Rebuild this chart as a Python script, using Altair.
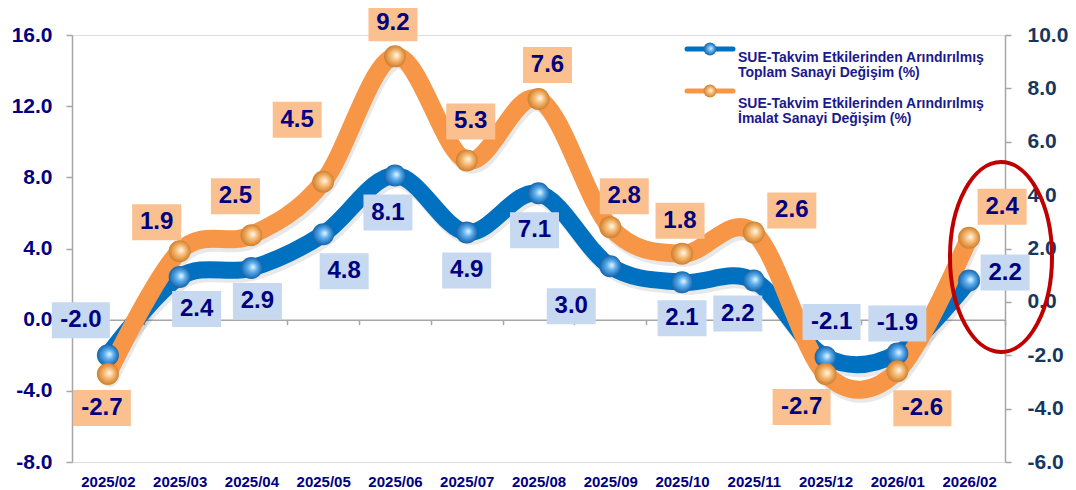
import altair as alt
import pandas as pd

# ---------------- data ----------------
months = ["2025/02", "2025/03", "2025/04", "2025/05", "2025/06", "2025/07", "2025/08",
          "2025/09", "2025/10", "2025/11", "2025/12", "2026/01", "2026/02"]
toplam = [-2.0, 2.4, 2.9, 4.8, 8.1, 4.9, 7.1, 3.0, 2.1, 2.2, -2.1, -1.9, 2.2]
imalat = [-2.7, 1.9, 2.5, 4.5, 9.2, 5.3, 7.6, 2.8, 1.8, 2.6, -2.7, -2.6, 2.4]

legend_toplam = ["SUE-Takvim Etkilerinden Arındırılmış", "Toplam Sanayi Değişim (%)"]
legend_imalat = ["SUE-Takvim Etkilerinden Arındırılmış", "İmalat Sanayi Değişim (%)"]

left_ticks = [-8, -4, 0, 4, 8, 12, 16]
right_ticks = [-6, -4, -2, 0, 2, 4, 6, 8, 10]

# label placement (pixel offset of each value box from its point)
toplam_dx = [-27, 17, 6, 21, -7, 0, -4, -39, 0, -16, 6, 0, 36]
toplam_dy = [-35, 32, 33, 37, 37, 38, 37, 40, 36, 33, -35, -30, -8]
imalat_dx = [-6, -23, -16, -26, -2, 4, 9, 14, -2, 38, -24, 25, 33]
imalat_dy = [34, -29, -39, -62, -33, -39, -34, -31, -33, -22, 33, 37, -31]

FONT = "Liberation Sans"
NAVY = "#000080"
BLUE = "#0070C0"
ORANGE = "#F79646"
BLUE_BOX = "#C6D9F1"
ORANGE_BOX = "#FAC090"
GRAY = "#A6A6A6"


def frame(vals, dx, dy):
    return pd.DataFrame({
        "month": months,
        "value": vals,
        "label": [f"{v:.1f}" for v in vals],
        "len": [str(len(f"{v:.1f}")) for v in vals],
        "dx": dx,
        "dy": dy,
    })


df_t = frame(toplam, toplam_dx, toplam_dy)
df_i = frame(imalat, imalat_dx, imalat_dy)

label_expr = "(datum.value < 0 ? '-' : '') + format(abs(datum.value), '.1f')"

x_enc = alt.X(
    "month:N", sort=months, title=None,
    scale=alt.Scale(type="band", paddingInner=0, paddingOuter=0),
    axis=alt.Axis(offset=-142.3, domainColor=GRAY, domainWidth=1.5, tickColor=GRAY,
                  tickWidth=1.5, tickSize=5, tickBand="extent", labelAngle=0,
                  labelPadding=150, labelFont=FONT, labelFontSize=15,
                  labelFontWeight="bold", labelColor=NAVY, grid=False),
)

left_scale = alt.Scale(domain=[-8, 16], nice=False, zero=False)
right_scale = alt.Scale(domain=[-6, 10], nice=False, zero=False)

left_axis = alt.Axis(orient="left", values=left_ticks, labelExpr=label_expr, title=None,
                     grid=False, domainColor=GRAY, domainWidth=1.5, tickColor=GRAY,
                     tickWidth=1.5, tickSize=6, labelPadding=14, labelFont=FONT,
                     labelFontSize=21, labelFontWeight="bold", labelColor=NAVY)
right_axis = alt.Axis(orient="right", values=right_ticks, labelExpr=label_expr, title=None,
                      grid=False, domainColor=GRAY, domainWidth=1.5, tickColor=GRAY,
                      tickWidth=1.5, tickSize=6, labelPadding=16, labelFont=FONT,
                      labelFontSize=21, labelFontWeight="bold", labelColor="#17375E")


def yenc(scale, axis=None):
    return alt.Y("value:Q", scale=scale, axis=axis, title=None)


def sphere(light, mid, dark):
    return {"gradient": "radial", "x1": 0.58, "y1": 0.45, "r1": 0,
            "x2": 0.5, "y2": 0.5, "r2": 0.55,
            "stops": [{"offset": 0, "color": light},
                      {"offset": 0.4, "color": mid},
                      {"offset": 1, "color": dark}]}


blue_sphere = sphere("#eaf6ff", "#5aaeee", "#0a569e")
orange_sphere = sphere("#fffaf2", "#f8bd78", "#c8741f")

box3 = "M-1.361,-1H1.361V1H-1.361Z"
box4 = "M-1.611,-1H1.611V1H-1.611Z"
ellipse = "M0,-1A0.537,1,0,1,1,0,1A0.537,1,0,1,1,0,-1Z"

DX = alt.ExprRef(expr="datum.dx")
DY = alt.ExprRef(expr="datum.dy")


def series_layers(df, scale, axis, color, width, sph, boxcolor):
    base = alt.Chart(df)
    shadow = base.mark_line(interpolate="cardinal", tension=0, strokeWidth=width,
                            color="#000000", opacity=0.09, strokeCap="round",
                            xOffset=2, yOffset=4).encode(x=x_enc, y=yenc(scale))
    line = base.mark_line(interpolate="cardinal", tension=0, strokeWidth=width,
                          color=color, strokeCap="round").encode(x=x_enc, y=yenc(scale, axis))
    pts = base.mark_circle(size=484, fill=sph, opacity=1).encode(x=x_enc, y=yenc(scale))
    boxes = base.mark_point(filled=True, fill=boxcolor, opacity=1, strokeWidth=0,
                            size=1296, xOffset=DX, yOffset=DY).encode(
        x=x_enc, y=yenc(scale),
        shape=alt.Shape("len:N", scale=alt.Scale(domain=["3", "4"], range=[box3, box4]),
                        legend=None),
    )
    text = base.mark_text(font=FONT, fontSize=24, fontWeight="bold", color=NAVY,
                          align="center", baseline="middle", dx=DX, dy=DY).encode(
        x=x_enc, y=yenc(scale),
        text="label:N",
    )
    return shadow, line, pts, boxes, text


b_shadow, b_line, b_pts, b_boxes, b_text = series_layers(
    df_t, left_scale, left_axis, BLUE, 17, blue_sphere, BLUE_BOX)
o_shadow, o_line, o_pts, o_boxes, o_text = series_layers(
    df_i, right_scale, right_axis, ORANGE, 18, orange_sphere, ORANGE_BOX)

one = pd.DataFrame({"k": [0]})
anno = alt.Chart(one)

ring = anno.mark_point(shape=ellipse, size=36100, filled=False, stroke="#C00000",
                       strokeWidth=4, opacity=1).encode(x=alt.value(929), y=alt.value(222))

leg_b_line = anno.mark_rule(color=BLUE, strokeWidth=5, strokeCap="round").encode(
    x=alt.value(615), x2=alt.value(661), y=alt.value(14))
leg_b_pt = anno.mark_circle(size=169, fill=blue_sphere, opacity=1).encode(
    x=alt.value(638), y=alt.value(14))
leg_b_txt = anno.mark_text(text=legend_toplam, font=FONT, fontSize=14, fontWeight="bold",
                           color="#1a1a8c", align="left", baseline="middle",
                           lineHeight=15).encode(x=alt.value(666), y=alt.value(22.5))
leg_o_line = anno.mark_rule(color=ORANGE, strokeWidth=5, strokeCap="round").encode(
    x=alt.value(615), x2=alt.value(661), y=alt.value(56))
leg_o_pt = anno.mark_circle(size=169, fill=orange_sphere, opacity=1).encode(
    x=alt.value(638), y=alt.value(56))
leg_o_txt = anno.mark_text(text=legend_imalat, font=FONT, fontSize=14, fontWeight="bold",
                           color="#1a1a8c", align="left", baseline="middle",
                           lineHeight=15).encode(x=alt.value(666), y=alt.value(68.5))

chart = alt.layer(
    b_shadow, o_shadow, b_line, o_line, b_pts, o_pts,
    b_boxes, b_text, o_boxes, o_text,
    ring, leg_b_line, leg_b_pt, leg_b_txt, leg_o_line, leg_o_pt, leg_o_txt,
).resolve_scale(y="independent").properties(
    width=933, height=427,
    autosize=alt.AutoSizeParams(type="none"),
    padding={"left": 64, "top": 27, "right": 63, "bottom": 28},
).configure_view(stroke=None).configure(background="white")

chart.save("out.html", embed_options={"renderer": "svg", "actions": False})
